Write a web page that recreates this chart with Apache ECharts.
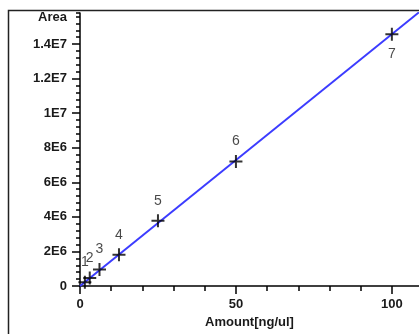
<!DOCTYPE html>
<html>
<head>
<meta charset="utf-8">
<script src="https://cdn.jsdelivr.net/npm/echarts@6/dist/echarts.min.js"></script>
<style>
  html, body { margin: 0; padding: 0; background: #fff; }
  #chart { width: 419px; height: 334px; }
</style>
</head>
<body>
<div id="chart"></div>
<script>
// Calibration standards: amount (ng/ul) vs. peak area
const levels = ['1', '2', '3', '4', '5', '6', '7'];
const amounts = [1.5625, 3.125, 6.25, 12.5, 25, 50, 100];
const areas = [0.22e6, 0.47e6, 0.95e6, 1.81e6, 3.78e6, 7.2e6, 1.457e7];

// Calibration line end points
const fitAmounts = [0, 108.7];
const fitAreas = [0, 1.584e7];

// Axis ticks
const xMajorTicks = [0, 50, 100];
const xMinorTicks = [0, 10, 20, 30, 40, 50, 60, 70, 80, 90, 100];
const yMajorTicks = [0, 2e6, 4e6, 6e6, 8e6, 1e7, 1.2e7, 1.4e7];
const yMinorStep = 4e5;

const X_MAX = 108.7;
const Y_MAX = 1.58e7;
const FONT = '"Liberation Sans", Arial, sans-serif';
const TEXT = '#1a1a1a';
const WEIGHT = 'bold';

const fmtArea = v => {
  if (v === 0) return '0';
  const e = Math.floor(Math.log10(v) + 1e-9);
  const m = +(v / Math.pow(10, e)).toFixed(2);
  return m + 'E' + e;
};

const chart = echarts.init(document.getElementById('chart'));

const scatterData = amounts.map((x, i) => ({
  value: [x, areas[i]],
  name: levels[i],
  label: i === amounts.length - 1 ? { position: 'bottom' } : undefined
}));

const textStyle = { color: TEXT, fontFamily: FONT, fontSize: 13, fontWeight: WEIGHT };

chart.setOption({
  animation: false,
  backgroundColor: '#fff',
  grid: { left: 80, right: 419 - 80 - 339.1, top: 13, bottom: 45, containLabel: false },
  xAxis: [
    {
      type: 'value', min: 0, max: X_MAX,
      name: 'Amount[ng/ul]', nameLocation: 'middle', nameGap: 30,
      nameTextStyle: Object.assign({}, textStyle),
      axisLine: { lineStyle: { color: '#000', width: 1.5 } },
      axisTick: { show: true, length: 8, lineStyle: { color: '#000', width: 1.5 }, customValues: xMajorTicks },
      axisLabel: Object.assign({ margin: 12, customValues: xMajorTicks }, textStyle),
      splitLine: { show: false }
    },
    {
      type: 'value', min: 0, max: X_MAX, position: 'bottom',
      axisLine: { show: false },
      axisTick: { show: true, length: 5, lineStyle: { color: '#000', width: 1.5 }, customValues: xMinorTicks },
      axisLabel: { show: false },
      splitLine: { show: false }
    }
  ],
  yAxis: [
    {
      type: 'value', min: 0, max: Y_MAX,
      name: 'Area', nameLocation: 'end', nameGap: -4,
      nameTextStyle: Object.assign({ align: 'right', verticalAlign: 'middle', padding: [0, 13, 0, 0] }, textStyle),
      axisLine: { show: true, lineStyle: { color: '#000', width: 1.5 } },
      axisTick: { show: true, length: 8, lineStyle: { color: '#000', width: 1.5 }, customValues: yMajorTicks },
      axisLabel: Object.assign({ margin: 13, customValues: yMajorTicks, formatter: fmtArea }, textStyle),
      splitLine: { show: false }
    },
    {
      type: 'value', min: 0, max: Y_MAX, interval: yMinorStep, position: 'left',
      axisLine: { show: false },
      axisTick: { show: true, length: 4, lineStyle: { color: '#000', width: 1.5 } },
      axisLabel: { show: false },
      splitLine: { show: false }
    }
  ],
  graphic: [
    {
      type: 'rect', silent: true, z: 100,
      shape: { x: 8.5, y: 10.5, width: 600, height: 600 },
      style: { fill: 'none', stroke: '#222', lineWidth: 1.5 }
    }
  ],
  series: [
    {
      type: 'line',
      data: fitAmounts.map((x, i) => [x, fitAreas[i]]),
      showSymbol: false,
      clip: true,
      lineStyle: { color: '#3c3cff', width: 2 },
      z: 2
    },
    {
      type: 'scatter',
      data: scatterData,
      symbol: 'path://M0,6.5L13,6.5M6.5,0L6.5,13',
      symbolSize: 13,
      itemStyle: { color: 'none', borderColor: '#000', borderWidth: 2 },
      label: Object.assign({
        show: true, position: 'top', distance: 4,
        formatter: p => p.name
      }, textStyle, { fontWeight: 'normal', fontSize: 14 }),
      z: 3
    }
  ]
});
</script>
</body>
</html>
